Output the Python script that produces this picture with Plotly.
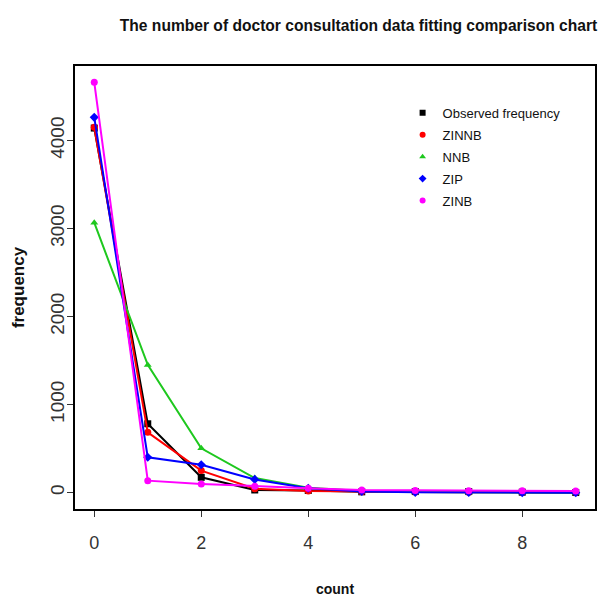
import plotly.graph_objects as go

counts = [0, 1, 2, 3, 4, 5, 6, 7, 8, 9]
observed = [4141, 782, 174, 30, 24, 9, 12, 12, 5, 1]
zinnb = [4150, 685, 250, 45, 18, 10, 6, 4, 3, 2]
nnb = [3066, 1451, 503, 165, 55, 18, 6, 2, 1, 0]
zip_ = [4263, 401, 317, 150, 50, 12, 3, 1, 0, 0]
zinb = [4660, 136, 99, 72, 50, 30, 25, 22, 20, 18]

names = ["Observed frequency", "ZINNB", "NNB", "ZIP", "ZINB"]
series = [observed, zinnb, nnb, zip_, zinb]
colors = ["#000000", "#ff0000", "#1ec81e", "#0000ff", "#ff00ff"]
symbols = ["square", "circle", "triangle-up", "diamond", "circle"]

FONT = "Liberation Sans, Arial, sans-serif"

fig = go.Figure()
for name, vals, c, s in zip(names, series, colors, symbols):
    fig.add_trace(go.Scatter(
        x=counts, y=vals, mode="lines+markers", name=name,
        line=dict(color=c, width=2), marker=dict(color=c, symbol=s, size=7),
        showlegend=False))
for i, (name, c, s) in enumerate(zip(names, colors, symbols)):
    fig.add_trace(go.Scatter(
        x=[None], y=[None], mode="markers", name=name, legendgroup=f"g{i}",
        marker=dict(color=c, symbol=s, size=6), showlegend=True))

fig.update_layout(
    width=599, height=597,
    margin=dict(l=75, r=2, t=66, b=87),
    paper_bgcolor="white", plot_bgcolor="white",
    font=dict(family=FONT, size=13, color="#222"),
    title=dict(text="<b>The number of doctor consultation data fitting comparison chart</b>",
               x=0.2, xanchor="left", y=0.958, yanchor="middle",
               font=dict(family=FONT, size=15.6, color="#111")),
    legend=dict(x=0.63, y=0.928, xanchor="left", yanchor="top",
                bgcolor="rgba(0,0,0,0)", font=dict(family=FONT, size=13, color="#111"),
                tracegroupgap=2, itemwidth=30),
    xaxis=dict(range=[-0.36, 9.36], tickvals=[0, 2, 4, 6, 8], showgrid=False, zeroline=False,
               showline=True, linecolor="black", linewidth=2, mirror=True,
               ticks="outside", ticklen=6, tickcolor="#333", tickwidth=1,
               ticklabelstandoff=10, tickfont=dict(size=18, color="#333"),
               title=dict(text="<b>count</b>", standoff=33, font=dict(size=14, color="#111"))),
    yaxis=dict(range=[-186, 4846], tickvals=[0, 1000, 2000, 3000, 4000], showgrid=False,
               zeroline=False, showline=True, linecolor="black", linewidth=2, mirror=True,
               ticks="outside", ticklen=6, tickcolor="#333", tickwidth=1, tickangle=-90,
               ticklabelstandoff=-5, tickfont=dict(size=19, color="#333"),
               title=dict(text="<b>frequency</b>", standoff=18, font=dict(size=17, color="#111"))),
)

fig.write_html("out.html")
